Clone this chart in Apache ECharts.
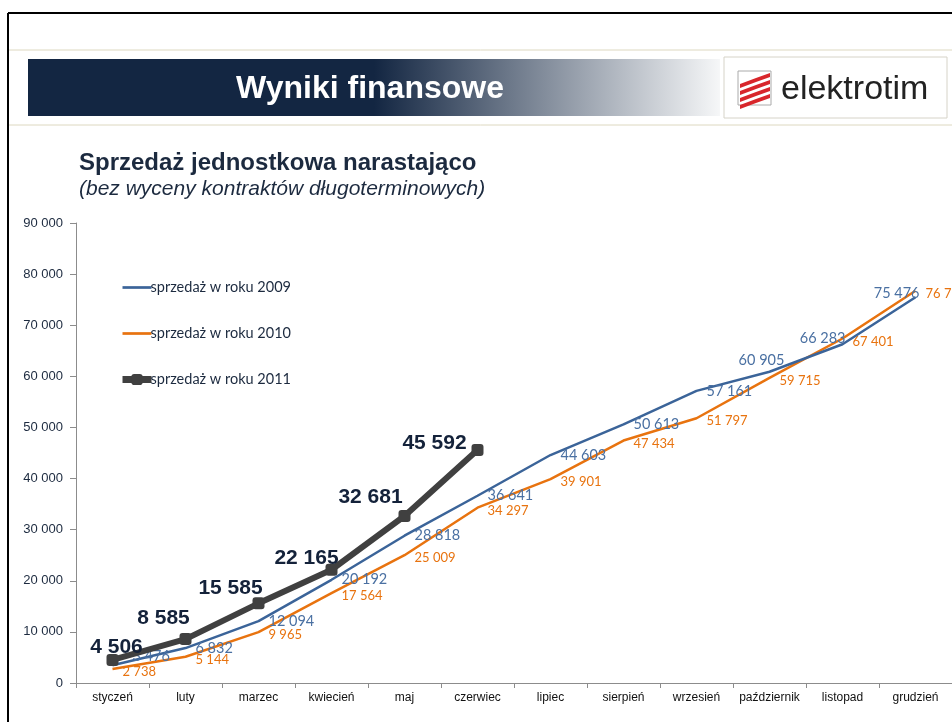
<!DOCTYPE html>
<html>
<head>
<meta charset="utf-8">
<script src="https://cdn.jsdelivr.net/npm/echarts@6/dist/echarts.min.js"></script>
<style>
  html, body { margin: 0; padding: 0; background: #fff; }
  #chart { width: 952px; height: 722px; }
</style>
</head>
<body>
<div id="chart"></div>
<script>
// miesiace
var months = ['styczeń', 'luty', 'marzec', 'kwiecień', 'maj', 'czerwiec', 'lipiec', 'sierpień', 'wrzesień', 'październik', 'listopad', 'grudzień'];
// sprzedaz narastajaco (tys. zl)
var sales2009 = [3476, 6832, 12094, 20192, 28818, 36641, 44603, 50613, 57161, 60905, 66283, 75476];
var sales2010 = [2738, 5144, 9965, 17564, 25009, 34297, 39901, 47434, 51797, 59715, 67401, 76731];
var sales2011 = [4506, 8585, 15585, 22165, 32681, 45592];

// ulozenie etykiet (jak w oryginale, recznie przesuwane)
var labelPos2009 = ['right', 'right', 'right', 'right', 'right', 'right', 'right', 'right', 'right', 'top', 'left', 'left'];
var labelShift2009 = [[10, -9], [0, 0], [0, 0], [0, 0], [0, 0], [0, 0], [0, 0], [0, 0], [0, 0], [-8, 6], [13, -6], [14, -4]];
var labelShift2011 = [[4, 4], [-22, -4], [-28, 1], [-25, 5], [-34, -2], [-43, 10]];

function fmt(v) {
    return String(v).replace(/\B(?=(\d{3})+(?!\d))/g, ' ');
}

var myChart = echarts.init(document.getElementById('chart'));

var sansFont = 'Lato, "Open Sans", sans-serif';
var arial = '"Liberation Sans", Arial, sans-serif';

var data2009 = sales2009.map(function (v, i) {
    return { value: v, label: { position: labelPos2009[i], offset: labelShift2009[i] } };
});
var data2011 = sales2011.map(function (v, i) {
    return { value: v, label: { offset: labelShift2011[i] } };
});

var lineIcon = 'path://M0,0H30V2.8H0Z';

// paski w logo
var logoStripes = [0, 1, 2, 3].map(function (i) {
    var y = 84 + i * 7;
    return {
        type: 'polygon',
        shape: { points: [[740, y], [756, y - 6], [770, y - 11], [770, y - 7], [756, y - 2], [740, y + 4]] },
        style: { fill: '#d8262b' }
    };
});

var option = {
    backgroundColor: '#fff',
    animation: false,
    graphic: [
        // ramka slajdu
        { type: 'line', shape: { x1: 8, y1: 13, x2: 952, y2: 13 }, style: { stroke: '#000', lineWidth: 2 } },
        { type: 'line', shape: { x1: 8, y1: 13, x2: 8, y2: 722 }, style: { stroke: '#000', lineWidth: 2 } },
        { type: 'line', shape: { x1: 9, y1: 50, x2: 952, y2: 50 }, style: { stroke: '#ddd8c0', lineWidth: 1 } },
        { type: 'line', shape: { x1: 9, y1: 125, x2: 952, y2: 125 }, style: { stroke: '#ddd8c0', lineWidth: 1 } },
        // naglowek
        {
            type: 'rect', shape: { x: 28, y: 59, width: 692, height: 57 },
            style: {
                fill: new echarts.graphic.LinearGradient(0, 0, 1, 0, [
                    { offset: 0, color: '#132642' },
                    { offset: 0.5, color: '#132642' },
                    { offset: 1, color: '#f6f7f8' }
                ])
            }
        },
        {
            type: 'text', x: 370, y: 89,
            style: { text: 'Wyniki finansowe', fill: '#fff', font: 'bold 32px ' + arial, textAlign: 'center', textVerticalAlign: 'middle' }
        },
        // logo
        { type: 'rect', shape: { x: 724, y: 57, width: 223, height: 61 }, style: { fill: '#fff', stroke: '#d6d3c8', lineWidth: 1 } },
        { type: 'rect', shape: { x: 738, y: 71, width: 33, height: 34 }, style: { fill: '#fff', stroke: '#aaa', lineWidth: 1 } }
    ].concat(logoStripes).concat([
        {
            type: 'text', x: 781, y: 90,
            style: { text: 'elektrotim', fill: '#222', font: '34px ' + arial, textVerticalAlign: 'middle' }
        }
    ]),
    title: {
        text: 'Sprzedaż jednostkowa narastająco',
        subtext: '(bez wyceny kontraktów długoterminowych)',
        left: 74,
        top: 146,
        itemGap: 4,
        textStyle: { fontFamily: arial, fontSize: 24, fontWeight: 'bold', color: '#1c2a3f' },
        subtextStyle: { fontFamily: arial, fontSize: 21, fontStyle: 'italic', color: '#1c2a3f' }
    },
    legend: {
        orient: 'vertical',
        left: 114,
        top: 275,
        itemWidth: 29,
        itemHeight: 14,
        itemGap: 31,
        textStyle: { fontFamily: sansFont, fontSize: 14.5, color: '#1c2a3f', padding: [0, 0, 0, -6] },
        data: [
            { name: 'sprzedaż w roku 2009', icon: lineIcon },
            { name: 'sprzedaż w roku 2010', icon: lineIcon },
            { name: 'sprzedaż w roku 2011', lineStyle: { width: 7 } }
        ]
    },
    grid: { left: 76, right: 0, top: 223, bottom: 39 },
    xAxis: {
        type: 'category',
        data: months,
        boundaryGap: true,
        axisLine: { lineStyle: { color: '#8c8c8c' } },
        axisTick: { show: true, interval: 0, length: 5, lineStyle: { color: '#8c8c8c' } },
        axisLabel: { interval: 0, fontFamily: arial, fontSize: 12, color: '#111', margin: 9 }
    },
    yAxis: {
        type: 'value',
        min: 0,
        max: 90000,
        interval: 10000,
        axisLine: { show: true, lineStyle: { color: '#8c8c8c' } },
        axisTick: { show: true, length: 6, lineStyle: { color: '#8c8c8c' } },
        splitLine: { show: false },
        axisLabel: { fontFamily: arial, fontSize: 13, color: '#1c2a3f', margin: 13, formatter: fmt }
    },
    series: [
        {
            name: 'sprzedaż w roku 2009',
            type: 'line',
            data: data2009,
            color: '#3b6499',
            symbol: 'circle',
            symbolSize: 0,
            showAllSymbol: true,
            lineStyle: { width: 2.5, color: '#3b6499' },
            label: {
                show: true, position: 'right', distance: 10,
                fontFamily: sansFont, fontSize: 14.5, color: '#4a70a2',
                formatter: function (p) { return fmt(p.value); }
            },
            z: 3
        },
        {
            name: 'sprzedaż w roku 2010',
            type: 'line',
            data: sales2010,
            color: '#e8730f',
            symbol: 'circle',
            symbolSize: 0,
            showAllSymbol: true,
            lineStyle: { width: 2.5, color: '#e8730f' },
            label: {
                show: true, position: 'right', distance: 10, offset: [0, 3],
                fontFamily: sansFont, fontSize: 13, color: '#e8730f',
                formatter: function (p) { return fmt(p.value); }
            },
            z: 2
        },
        {
            name: 'sprzedaż w roku 2011',
            type: 'line',
            data: data2011,
            color: '#404040',
            symbol: 'roundRect',
            symbolSize: 12,
            showAllSymbol: true,
            itemStyle: { color: '#404040' },
            lineStyle: { width: 6, color: '#404040' },
            label: {
                show: true, position: 'top', distance: 0,
                fontFamily: arial, fontSize: 21, fontWeight: 'bold', color: '#14223a',
                formatter: function (p) { return fmt(p.value); }
            },
            z: 4
        }
    ]
};

myChart.setOption(option);
</script>
</body>
</html>
